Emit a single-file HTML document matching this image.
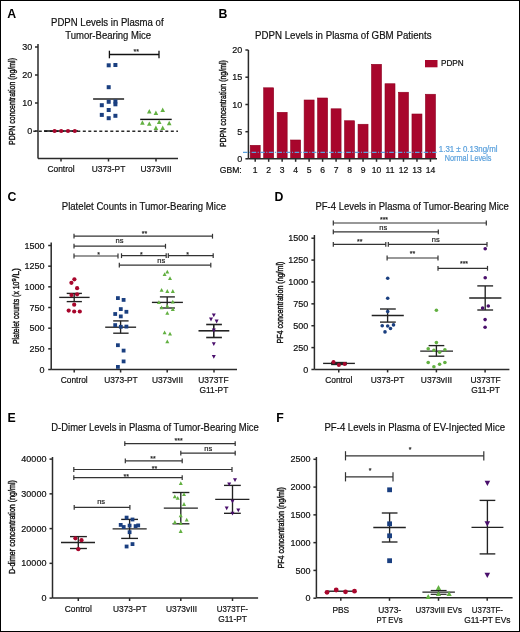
<!DOCTYPE html>
<html><head><meta charset="utf-8"><style>
html,body{margin:0;padding:0;background:#fff;}
#fig{position:relative;width:518px;height:630px;border:1px solid #000;overflow:hidden;}
svg{display:block;font-family:"Liberation Sans", sans-serif;filter:blur(0.3px);}
</style></head><body>
<div id="fig"><svg width="520" height="632" viewBox="0 0 520 632" style="position:absolute;left:-1px;top:-1px">
<text x="7.2" y="17.6" font-size="12.3" text-anchor="start" font-weight="bold" fill="#000">A</text>
<text x="107.3" y="26.3" font-size="10.5" text-anchor="middle" font-weight="normal" fill="#111" textLength="112.5" lengthAdjust="spacingAndGlyphs" stroke="#111" stroke-width="0.2">PDPN Levels in Plasma of</text>
<text x="108.2" y="38.7" font-size="10.5" text-anchor="middle" font-weight="normal" fill="#111" textLength="86" lengthAdjust="spacingAndGlyphs" stroke="#111" stroke-width="0.2">Tumor-Bearing Mice</text>
<text transform="translate(15.3,101.5) rotate(-90)" x="0" y="0" font-size="9.2" text-anchor="middle" fill="#111" stroke="#111" stroke-width="0.4" textLength="87" lengthAdjust="spacingAndGlyphs">PDPN concentration (ng/ml)</text>
<line x1="38" y1="44" x2="38" y2="158.5" stroke="#2a2a2a" stroke-width="1.5"/>
<line x1="35" y1="47" x2="38" y2="47" stroke="#2a2a2a" stroke-width="1.5"/>
<text x="32.2" y="50.1" font-size="9.0" text-anchor="end" font-weight="normal" fill="#111" stroke="#111" stroke-width="0.2">30</text>
<line x1="35" y1="75" x2="38" y2="75" stroke="#2a2a2a" stroke-width="1.5"/>
<text x="32.2" y="78.1" font-size="9.0" text-anchor="end" font-weight="normal" fill="#111" stroke="#111" stroke-width="0.2">20</text>
<line x1="35" y1="103" x2="38" y2="103" stroke="#2a2a2a" stroke-width="1.5"/>
<text x="32.2" y="106.1" font-size="9.0" text-anchor="end" font-weight="normal" fill="#111" stroke="#111" stroke-width="0.2">10</text>
<line x1="35" y1="131" x2="38" y2="131" stroke="#2a2a2a" stroke-width="1.5"/>
<text x="32.2" y="134.1" font-size="9.0" text-anchor="end" font-weight="normal" fill="#111" stroke="#111" stroke-width="0.2">0</text>
<line x1="38" y1="158.5" x2="178" y2="158.5" stroke="#2a2a2a" stroke-width="1.5"/>
<line x1="61" y1="158.5" x2="61" y2="161.5" stroke="#2a2a2a" stroke-width="1.5"/>
<line x1="108.5" y1="158.5" x2="108.5" y2="161.5" stroke="#2a2a2a" stroke-width="1.5"/>
<line x1="156" y1="158.5" x2="156" y2="161.5" stroke="#2a2a2a" stroke-width="1.5"/>
<text x="61" y="172.3" font-size="8.4" text-anchor="middle" font-weight="normal" fill="#111" stroke="#111" stroke-width="0.2">Control</text>
<text x="108.5" y="172.3" font-size="8.4" text-anchor="middle" font-weight="normal" fill="#111" stroke="#111" stroke-width="0.2">U373-PT</text>
<text x="156" y="172.3" font-size="8.4" text-anchor="middle" font-weight="normal" fill="#111" stroke="#111" stroke-width="0.2">U373vIII</text>
<line x1="33.3" y1="131.2" x2="178" y2="131.2" stroke="#2a2a2a" stroke-width="1.4" stroke-dasharray="3 2.5"/>
<line x1="44" y1="131" x2="78" y2="131" stroke="#111" stroke-width="1.3"/>
<line x1="93.1" y1="99" x2="124.1" y2="99" stroke="#111" stroke-width="1.4"/>
<line x1="140.2" y1="119.4" x2="171.7" y2="119.4" stroke="#111" stroke-width="1.4"/>
<line x1="109.4" y1="54.5" x2="159" y2="54.5" stroke="#111" stroke-width="1.3"/>
<line x1="109.4" y1="50.7" x2="109.4" y2="58.3" stroke="#111" stroke-width="1.3"/>
<line x1="159" y1="50.7" x2="159" y2="58.3" stroke="#111" stroke-width="1.3"/>
<text x="136.3" y="54.1" font-size="7" text-anchor="middle" font-weight="normal" fill="#222" stroke="#222" stroke-width="0.2">**</text>
<text x="218.6" y="17.7" font-size="12.3" text-anchor="start" font-weight="bold" fill="#000">B</text>
<text x="255" y="38.5" font-size="10.5" text-anchor="start" font-weight="normal" fill="#111" textLength="176.5" lengthAdjust="spacingAndGlyphs" stroke="#111" stroke-width="0.2">PDPN Levels in Plasma of GBM Patients</text>
<text transform="translate(226.0,103.6) rotate(-90)" x="0" y="0" font-size="9.2" text-anchor="middle" fill="#111" stroke="#111" stroke-width="0.4" textLength="87" lengthAdjust="spacingAndGlyphs">PDPN concentration (ng/ml)</text>
<rect x="250.20" y="145.3" width="10" height="13.20" fill="#a8062c" stroke="#8e0020" stroke-width="0.6"/>
<rect x="263.68" y="87.8" width="10" height="70.70" fill="#a8062c" stroke="#8e0020" stroke-width="0.6"/>
<rect x="277.16" y="112.3" width="10" height="46.20" fill="#a8062c" stroke="#8e0020" stroke-width="0.6"/>
<rect x="290.64" y="140" width="10" height="18.50" fill="#a8062c" stroke="#8e0020" stroke-width="0.6"/>
<rect x="304.12" y="100" width="10" height="58.50" fill="#a8062c" stroke="#8e0020" stroke-width="0.6"/>
<rect x="317.60" y="98" width="10" height="60.50" fill="#a8062c" stroke="#8e0020" stroke-width="0.6"/>
<rect x="331.08" y="108.8" width="10" height="49.70" fill="#a8062c" stroke="#8e0020" stroke-width="0.6"/>
<rect x="344.56" y="120.75" width="10" height="37.75" fill="#a8062c" stroke="#8e0020" stroke-width="0.6"/>
<rect x="358.04" y="124.25" width="10" height="34.25" fill="#a8062c" stroke="#8e0020" stroke-width="0.6"/>
<rect x="371.52" y="64.3" width="10" height="94.20" fill="#a8062c" stroke="#8e0020" stroke-width="0.6"/>
<rect x="385.00" y="83.75" width="10" height="74.75" fill="#a8062c" stroke="#8e0020" stroke-width="0.6"/>
<rect x="398.48" y="92.25" width="10" height="66.25" fill="#a8062c" stroke="#8e0020" stroke-width="0.6"/>
<rect x="411.96" y="114" width="10" height="44.50" fill="#a8062c" stroke="#8e0020" stroke-width="0.6"/>
<rect x="425.44" y="94.25" width="10" height="64.25" fill="#a8062c" stroke="#8e0020" stroke-width="0.6"/>
<line x1="248.4" y1="50" x2="248.4" y2="158.8" stroke="#2a2a2a" stroke-width="1.5"/>
<line x1="245.4" y1="50" x2="248.4" y2="50" stroke="#2a2a2a" stroke-width="1.5"/>
<text x="242.3" y="53.1" font-size="9.0" text-anchor="end" font-weight="normal" fill="#111" stroke="#111" stroke-width="0.2">20</text>
<line x1="245.4" y1="77.2" x2="248.4" y2="77.2" stroke="#2a2a2a" stroke-width="1.5"/>
<text x="242.3" y="80.3" font-size="9.0" text-anchor="end" font-weight="normal" fill="#111" stroke="#111" stroke-width="0.2">15</text>
<line x1="245.4" y1="104.5" x2="248.4" y2="104.5" stroke="#2a2a2a" stroke-width="1.5"/>
<text x="242.3" y="107.6" font-size="9.0" text-anchor="end" font-weight="normal" fill="#111" stroke="#111" stroke-width="0.2">10</text>
<line x1="245.4" y1="131.7" x2="248.4" y2="131.7" stroke="#2a2a2a" stroke-width="1.5"/>
<text x="242.3" y="134.79999999999998" font-size="9.0" text-anchor="end" font-weight="normal" fill="#111" stroke="#111" stroke-width="0.2">5</text>
<line x1="245.4" y1="158.8" x2="248.4" y2="158.8" stroke="#2a2a2a" stroke-width="1.5"/>
<text x="242.3" y="161.9" font-size="9.0" text-anchor="end" font-weight="normal" fill="#111" stroke="#111" stroke-width="0.2">0</text>
<line x1="248.4" y1="158.8" x2="437" y2="158.8" stroke="#2a2a2a" stroke-width="1.5"/>
<line x1="255.2" y1="158.8" x2="255.2" y2="161.8" stroke="#2a2a2a" stroke-width="1.5"/>
<line x1="268.68" y1="158.8" x2="268.68" y2="161.8" stroke="#2a2a2a" stroke-width="1.5"/>
<line x1="282.15999999999997" y1="158.8" x2="282.15999999999997" y2="161.8" stroke="#2a2a2a" stroke-width="1.5"/>
<line x1="295.64" y1="158.8" x2="295.64" y2="161.8" stroke="#2a2a2a" stroke-width="1.5"/>
<line x1="309.12" y1="158.8" x2="309.12" y2="161.8" stroke="#2a2a2a" stroke-width="1.5"/>
<line x1="322.6" y1="158.8" x2="322.6" y2="161.8" stroke="#2a2a2a" stroke-width="1.5"/>
<line x1="336.08" y1="158.8" x2="336.08" y2="161.8" stroke="#2a2a2a" stroke-width="1.5"/>
<line x1="349.56" y1="158.8" x2="349.56" y2="161.8" stroke="#2a2a2a" stroke-width="1.5"/>
<line x1="363.03999999999996" y1="158.8" x2="363.03999999999996" y2="161.8" stroke="#2a2a2a" stroke-width="1.5"/>
<line x1="376.52" y1="158.8" x2="376.52" y2="161.8" stroke="#2a2a2a" stroke-width="1.5"/>
<line x1="390.0" y1="158.8" x2="390.0" y2="161.8" stroke="#2a2a2a" stroke-width="1.5"/>
<line x1="403.48" y1="158.8" x2="403.48" y2="161.8" stroke="#2a2a2a" stroke-width="1.5"/>
<line x1="416.96" y1="158.8" x2="416.96" y2="161.8" stroke="#2a2a2a" stroke-width="1.5"/>
<line x1="430.44" y1="158.8" x2="430.44" y2="161.8" stroke="#2a2a2a" stroke-width="1.5"/>
<text x="255.2" y="172.5" font-size="8.6" text-anchor="middle" font-weight="normal" fill="#111" stroke="#111" stroke-width="0.2">1</text>
<text x="268.68" y="172.5" font-size="8.6" text-anchor="middle" font-weight="normal" fill="#111" stroke="#111" stroke-width="0.2">2</text>
<text x="282.16" y="172.5" font-size="8.6" text-anchor="middle" font-weight="normal" fill="#111" stroke="#111" stroke-width="0.2">3</text>
<text x="295.64" y="172.5" font-size="8.6" text-anchor="middle" font-weight="normal" fill="#111" stroke="#111" stroke-width="0.2">4</text>
<text x="309.12" y="172.5" font-size="8.6" text-anchor="middle" font-weight="normal" fill="#111" stroke="#111" stroke-width="0.2">5</text>
<text x="322.6" y="172.5" font-size="8.6" text-anchor="middle" font-weight="normal" fill="#111" stroke="#111" stroke-width="0.2">6</text>
<text x="336.08" y="172.5" font-size="8.6" text-anchor="middle" font-weight="normal" fill="#111" stroke="#111" stroke-width="0.2">7</text>
<text x="349.56" y="172.5" font-size="8.6" text-anchor="middle" font-weight="normal" fill="#111" stroke="#111" stroke-width="0.2">8</text>
<text x="363.04" y="172.5" font-size="8.6" text-anchor="middle" font-weight="normal" fill="#111" stroke="#111" stroke-width="0.2">9</text>
<text x="376.52" y="172.5" font-size="8.6" text-anchor="middle" font-weight="normal" fill="#111" stroke="#111" stroke-width="0.2">10</text>
<text x="390.0" y="172.5" font-size="8.6" text-anchor="middle" font-weight="normal" fill="#111" stroke="#111" stroke-width="0.2">11</text>
<text x="403.48" y="172.5" font-size="8.6" text-anchor="middle" font-weight="normal" fill="#111" stroke="#111" stroke-width="0.2">12</text>
<text x="416.96" y="172.5" font-size="8.6" text-anchor="middle" font-weight="normal" fill="#111" stroke="#111" stroke-width="0.2">13</text>
<text x="430.44" y="172.5" font-size="8.6" text-anchor="middle" font-weight="normal" fill="#111" stroke="#111" stroke-width="0.2">14</text>
<text x="219.8" y="172.5" font-size="8.6" text-anchor="start" font-weight="normal" fill="#111" stroke="#111" stroke-width="0.2">GBM:</text>
<line x1="243" y1="152.4" x2="436.6" y2="152.4" stroke="#5aa0dc" stroke-width="1.1" stroke-dasharray="4.6 1.5 1 1.5"/>
<rect x="425" y="60" width="12.5" height="7.3" fill="#a8062c"/>
<text x="441" y="66.2" font-size="8.2" text-anchor="start" font-weight="normal" fill="#111" stroke="#111" stroke-width="0.2">PDPN</text>
<text x="438.8" y="152" font-size="8.2" text-anchor="start" font-weight="normal" fill="#5aa0dc" textLength="58.8" lengthAdjust="spacingAndGlyphs" stroke="#5aa0dc" stroke-width="0.2">1.31 &#177; 0.13ng/ml</text>
<text x="444.8" y="161.0" font-size="8.2" text-anchor="start" font-weight="normal" fill="#5aa0dc" textLength="46.6" lengthAdjust="spacingAndGlyphs" stroke="#5aa0dc" stroke-width="0.2">Normal Levels</text>
<text x="7.5" y="200.5" font-size="12.3" text-anchor="start" font-weight="bold" fill="#000">C</text>
<text x="61.75" y="210" font-size="10.5" text-anchor="start" font-weight="normal" fill="#111" textLength="164.3" lengthAdjust="spacingAndGlyphs" stroke="#111" stroke-width="0.2">Platelet Counts in Tumor-Bearing Mice</text>
<g transform="translate(19.0,306) rotate(-90)" fill="#111" stroke="#111" stroke-width="0.4"><text x="-38" y="0" font-size="9.2" textLength="62.4" lengthAdjust="spacingAndGlyphs">Platelet counts (x 10</text><text x="24.6" y="-3.4" font-size="6" textLength="3.2" lengthAdjust="spacingAndGlyphs">9</text><text x="27.9" y="0" font-size="9.2" textLength="10.1" lengthAdjust="spacingAndGlyphs">/L)</text></g>
<line x1="51.2" y1="242.5" x2="51.2" y2="369.5" stroke="#2a2a2a" stroke-width="1.5"/>
<line x1="48.2" y1="245.5" x2="51.2" y2="245.5" stroke="#2a2a2a" stroke-width="1.5"/>
<text x="44.6" y="248.6" font-size="9.0" text-anchor="end" font-weight="normal" fill="#111" stroke="#111" stroke-width="0.2">1500</text>
<line x1="48.2" y1="266.17" x2="51.2" y2="266.17" stroke="#2a2a2a" stroke-width="1.5"/>
<text x="44.6" y="269.27000000000004" font-size="9.0" text-anchor="end" font-weight="normal" fill="#111" stroke="#111" stroke-width="0.2">1250</text>
<line x1="48.2" y1="286.84000000000003" x2="51.2" y2="286.84000000000003" stroke="#2a2a2a" stroke-width="1.5"/>
<text x="44.6" y="289.94000000000005" font-size="9.0" text-anchor="end" font-weight="normal" fill="#111" stroke="#111" stroke-width="0.2">1000</text>
<line x1="48.2" y1="307.51" x2="51.2" y2="307.51" stroke="#2a2a2a" stroke-width="1.5"/>
<text x="44.6" y="310.61" font-size="9.0" text-anchor="end" font-weight="normal" fill="#111" stroke="#111" stroke-width="0.2">750</text>
<line x1="48.2" y1="328.18" x2="51.2" y2="328.18" stroke="#2a2a2a" stroke-width="1.5"/>
<text x="44.6" y="331.28000000000003" font-size="9.0" text-anchor="end" font-weight="normal" fill="#111" stroke="#111" stroke-width="0.2">500</text>
<line x1="48.2" y1="348.85" x2="51.2" y2="348.85" stroke="#2a2a2a" stroke-width="1.5"/>
<text x="44.6" y="351.95000000000005" font-size="9.0" text-anchor="end" font-weight="normal" fill="#111" stroke="#111" stroke-width="0.2">250</text>
<line x1="48.2" y1="369.52" x2="51.2" y2="369.52" stroke="#2a2a2a" stroke-width="1.5"/>
<text x="44.6" y="372.62" font-size="9.0" text-anchor="end" font-weight="normal" fill="#111" stroke="#111" stroke-width="0.2">0</text>
<line x1="51.2" y1="369.5" x2="237" y2="369.5" stroke="#2a2a2a" stroke-width="1.5"/>
<line x1="74.2" y1="369.5" x2="74.2" y2="372.5" stroke="#2a2a2a" stroke-width="1.5"/>
<line x1="120.6" y1="369.5" x2="120.6" y2="372.5" stroke="#2a2a2a" stroke-width="1.5"/>
<line x1="167.2" y1="369.5" x2="167.2" y2="372.5" stroke="#2a2a2a" stroke-width="1.5"/>
<line x1="214" y1="369.5" x2="214" y2="372.5" stroke="#2a2a2a" stroke-width="1.5"/>
<text x="74.2" y="383.2" font-size="8.4" text-anchor="middle" font-weight="normal" fill="#111" stroke="#111" stroke-width="0.2">Control</text>
<text x="120.9" y="383.2" font-size="8.4" text-anchor="middle" font-weight="normal" fill="#111" stroke="#111" stroke-width="0.2">U373-PT</text>
<text x="167.5" y="383.2" font-size="8.4" text-anchor="middle" font-weight="normal" fill="#111" stroke="#111" stroke-width="0.2">U373vIII</text>
<text x="213.4" y="383.2" font-size="8.4" text-anchor="middle" font-weight="normal" fill="#111" stroke="#111" stroke-width="0.2">U373TF</text>
<text x="213.9" y="393.4" font-size="8.4" text-anchor="middle" font-weight="normal" fill="#111" stroke="#111" stroke-width="0.2">G11-PT</text>
<line x1="74" y1="236.2" x2="212.5" y2="236.2" stroke="#333333" stroke-width="1.2"/>
<line x1="74" y1="233.79999999999998" x2="74" y2="238.6" stroke="#333333" stroke-width="1.2"/>
<line x1="212.5" y1="233.79999999999998" x2="212.5" y2="238.6" stroke="#333333" stroke-width="1.2"/>
<text x="144.5" y="235.8" font-size="7" text-anchor="middle" font-weight="normal" fill="#222" stroke="#222" stroke-width="0.2">**</text>
<line x1="74" y1="246.2" x2="165.5" y2="246.2" stroke="#333333" stroke-width="1.2"/>
<line x1="74" y1="243.79999999999998" x2="74" y2="248.6" stroke="#333333" stroke-width="1.2"/>
<line x1="165.5" y1="243.79999999999998" x2="165.5" y2="248.6" stroke="#333333" stroke-width="1.2"/>
<text x="119.5" y="243.2" font-size="7.5" text-anchor="middle" font-weight="normal" fill="#222" stroke="#222" stroke-width="0.2">ns</text>
<line x1="74" y1="256" x2="118" y2="256" stroke="#333333" stroke-width="1.2"/>
<line x1="74" y1="253.6" x2="74" y2="258.4" stroke="#333333" stroke-width="1.2"/>
<line x1="118" y1="253.6" x2="118" y2="258.4" stroke="#333333" stroke-width="1.2"/>
<text x="98.5" y="256.9" font-size="7" text-anchor="middle" font-weight="normal" fill="#222" stroke="#222" stroke-width="0.2">*</text>
<line x1="121.5" y1="255.7" x2="166.2" y2="255.7" stroke="#333333" stroke-width="1.2"/>
<line x1="121.5" y1="253.29999999999998" x2="121.5" y2="258.09999999999997" stroke="#333333" stroke-width="1.2"/>
<line x1="166.2" y1="253.29999999999998" x2="166.2" y2="258.09999999999997" stroke="#333333" stroke-width="1.2"/>
<text x="141.4" y="256.9" font-size="7" text-anchor="middle" font-weight="normal" fill="#222" stroke="#222" stroke-width="0.2">*</text>
<line x1="168.3" y1="255.7" x2="213.2" y2="255.7" stroke="#333333" stroke-width="1.2"/>
<line x1="168.3" y1="253.29999999999998" x2="168.3" y2="258.09999999999997" stroke="#333333" stroke-width="1.2"/>
<line x1="213.2" y1="253.29999999999998" x2="213.2" y2="258.09999999999997" stroke="#333333" stroke-width="1.2"/>
<text x="187.5" y="256.9" font-size="7" text-anchor="middle" font-weight="normal" fill="#222" stroke="#222" stroke-width="0.2">*</text>
<line x1="119.3" y1="265.2" x2="210.8" y2="265.2" stroke="#333333" stroke-width="1.2"/>
<line x1="119.3" y1="262.8" x2="119.3" y2="267.59999999999997" stroke="#333333" stroke-width="1.2"/>
<line x1="210.8" y1="262.8" x2="210.8" y2="267.59999999999997" stroke="#333333" stroke-width="1.2"/>
<text x="161.3" y="263" font-size="7.5" text-anchor="middle" font-weight="normal" fill="#222" stroke="#222" stroke-width="0.2">ns</text>
<line x1="59.2" y1="297.4" x2="89.6" y2="297.4" stroke="#222" stroke-width="1.35"/>
<line x1="66.7" y1="293.4" x2="81.9" y2="293.4" stroke="#222" stroke-width="1.35"/>
<line x1="66.7" y1="301.6" x2="81.9" y2="301.6" stroke="#222" stroke-width="1.35"/>
<line x1="74.2" y1="293.4" x2="74.2" y2="301.6" stroke="#222" stroke-width="1.35"/>
<line x1="105.2" y1="327.2" x2="136.1" y2="327.2" stroke="#222" stroke-width="1.35"/>
<line x1="113.2" y1="320.9" x2="128.6" y2="320.9" stroke="#222" stroke-width="1.35"/>
<line x1="113.2" y1="333.2" x2="128.6" y2="333.2" stroke="#222" stroke-width="1.35"/>
<line x1="120.6" y1="320.9" x2="120.6" y2="333.2" stroke="#222" stroke-width="1.35"/>
<line x1="151.9" y1="302.4" x2="182.9" y2="302.4" stroke="#222" stroke-width="1.35"/>
<line x1="159.9" y1="296.9" x2="174.9" y2="296.9" stroke="#222" stroke-width="1.35"/>
<line x1="159.9" y1="308" x2="174.9" y2="308" stroke="#222" stroke-width="1.35"/>
<line x1="167.2" y1="296.9" x2="167.2" y2="308" stroke="#222" stroke-width="1.35"/>
<line x1="198.5" y1="330.8" x2="229.3" y2="330.8" stroke="#222" stroke-width="1.6"/>
<line x1="206.2" y1="324.5" x2="221.9" y2="324.5" stroke="#222" stroke-width="1.6"/>
<line x1="206.2" y1="337.5" x2="221.9" y2="337.5" stroke="#222" stroke-width="1.6"/>
<line x1="213.8" y1="324.5" x2="213.8" y2="337.5" stroke="#222" stroke-width="1.6"/>
<text x="274.5" y="200.5" font-size="12.3" text-anchor="start" font-weight="bold" fill="#000">D</text>
<text x="315.5" y="210" font-size="10.5" text-anchor="start" font-weight="normal" fill="#111" textLength="193.3" lengthAdjust="spacingAndGlyphs" stroke="#111" stroke-width="0.2">PF-4 Levels in Plasma of Tumor-Bearing Mice</text>
<text transform="translate(283.1,302.5) rotate(-90)" x="0" y="0" font-size="9.2" text-anchor="middle" fill="#111" stroke="#111" stroke-width="0.4" textLength="82" lengthAdjust="spacingAndGlyphs">PF4 concentration (ng/ml)</text>
<line x1="314.4" y1="235" x2="314.4" y2="369.4" stroke="#2a2a2a" stroke-width="1.5"/>
<line x1="311.4" y1="238.2" x2="314.4" y2="238.2" stroke="#2a2a2a" stroke-width="1.5"/>
<text x="308.2" y="241.29999999999998" font-size="9.0" text-anchor="end" font-weight="normal" fill="#111" stroke="#111" stroke-width="0.2">1500</text>
<line x1="311.4" y1="260.08" x2="314.4" y2="260.08" stroke="#2a2a2a" stroke-width="1.5"/>
<text x="308.2" y="263.18" font-size="9.0" text-anchor="end" font-weight="normal" fill="#111" stroke="#111" stroke-width="0.2">1250</text>
<line x1="311.4" y1="281.96" x2="314.4" y2="281.96" stroke="#2a2a2a" stroke-width="1.5"/>
<text x="308.2" y="285.06" font-size="9.0" text-anchor="end" font-weight="normal" fill="#111" stroke="#111" stroke-width="0.2">1000</text>
<line x1="311.4" y1="303.84" x2="314.4" y2="303.84" stroke="#2a2a2a" stroke-width="1.5"/>
<text x="308.2" y="306.94" font-size="9.0" text-anchor="end" font-weight="normal" fill="#111" stroke="#111" stroke-width="0.2">750</text>
<line x1="311.4" y1="325.71999999999997" x2="314.4" y2="325.71999999999997" stroke="#2a2a2a" stroke-width="1.5"/>
<text x="308.2" y="328.82" font-size="9.0" text-anchor="end" font-weight="normal" fill="#111" stroke="#111" stroke-width="0.2">500</text>
<line x1="311.4" y1="347.59999999999997" x2="314.4" y2="347.59999999999997" stroke="#2a2a2a" stroke-width="1.5"/>
<text x="308.2" y="350.7" font-size="9.0" text-anchor="end" font-weight="normal" fill="#111" stroke="#111" stroke-width="0.2">250</text>
<line x1="311.4" y1="369.48" x2="314.4" y2="369.48" stroke="#2a2a2a" stroke-width="1.5"/>
<text x="308.2" y="372.58000000000004" font-size="9.0" text-anchor="end" font-weight="normal" fill="#111" stroke="#111" stroke-width="0.2">0</text>
<line x1="314.4" y1="369.4" x2="509.4" y2="369.4" stroke="#2a2a2a" stroke-width="1.5"/>
<line x1="338.75" y1="369.4" x2="338.75" y2="372.4" stroke="#2a2a2a" stroke-width="1.5"/>
<line x1="387.6" y1="369.4" x2="387.6" y2="372.4" stroke="#2a2a2a" stroke-width="1.5"/>
<line x1="436.4" y1="369.4" x2="436.4" y2="372.4" stroke="#2a2a2a" stroke-width="1.5"/>
<line x1="485.1" y1="369.4" x2="485.1" y2="372.4" stroke="#2a2a2a" stroke-width="1.5"/>
<text x="338.75" y="383.3" font-size="8.4" text-anchor="middle" font-weight="normal" fill="#111" stroke="#111" stroke-width="0.2">Control</text>
<text x="387.5" y="383.3" font-size="8.4" text-anchor="middle" font-weight="normal" fill="#111" stroke="#111" stroke-width="0.2">U373-PT</text>
<text x="436.45" y="383.3" font-size="8.4" text-anchor="middle" font-weight="normal" fill="#111" stroke="#111" stroke-width="0.2">U373vIII</text>
<text x="485.6" y="383.3" font-size="8.4" text-anchor="middle" font-weight="normal" fill="#111" stroke="#111" stroke-width="0.2">U373TF</text>
<text x="485.6" y="393.3" font-size="8.4" text-anchor="middle" font-weight="normal" fill="#111" stroke="#111" stroke-width="0.2">G11-PT</text>
<line x1="333.3" y1="223" x2="486.3" y2="223" stroke="#333333" stroke-width="1.2"/>
<line x1="333.3" y1="220.6" x2="333.3" y2="225.4" stroke="#333333" stroke-width="1.2"/>
<line x1="486.3" y1="220.6" x2="486.3" y2="225.4" stroke="#333333" stroke-width="1.2"/>
<text x="384" y="222.0" font-size="7" text-anchor="middle" font-weight="normal" fill="#222" stroke="#222" stroke-width="0.2">***</text>
<line x1="333.3" y1="231.8" x2="438.3" y2="231.8" stroke="#333333" stroke-width="1.2"/>
<line x1="333.3" y1="229.4" x2="333.3" y2="234.20000000000002" stroke="#333333" stroke-width="1.2"/>
<line x1="438.3" y1="229.4" x2="438.3" y2="234.20000000000002" stroke="#333333" stroke-width="1.2"/>
<text x="383.3" y="230.2" font-size="7.5" text-anchor="middle" font-weight="normal" fill="#222" stroke="#222" stroke-width="0.2">ns</text>
<line x1="333.3" y1="244.3" x2="385.8" y2="244.3" stroke="#333333" stroke-width="1.2"/>
<line x1="333.3" y1="241.9" x2="333.3" y2="246.70000000000002" stroke="#333333" stroke-width="1.2"/>
<line x1="385.8" y1="241.9" x2="385.8" y2="246.70000000000002" stroke="#333333" stroke-width="1.2"/>
<text x="359.7" y="244.1" font-size="7" text-anchor="middle" font-weight="normal" fill="#222" stroke="#222" stroke-width="0.2">**</text>
<line x1="388.3" y1="244.3" x2="487" y2="244.3" stroke="#333333" stroke-width="1.2"/>
<line x1="388.3" y1="241.9" x2="388.3" y2="246.70000000000002" stroke="#333333" stroke-width="1.2"/>
<line x1="487" y1="241.9" x2="487" y2="246.70000000000002" stroke="#333333" stroke-width="1.2"/>
<text x="435.8" y="241.6" font-size="7.5" text-anchor="middle" font-weight="normal" fill="#222" stroke="#222" stroke-width="0.2">ns</text>
<line x1="387.1" y1="258" x2="438" y2="258" stroke="#333333" stroke-width="1.2"/>
<line x1="387.1" y1="255.6" x2="387.1" y2="260.4" stroke="#333333" stroke-width="1.2"/>
<line x1="438" y1="255.6" x2="438" y2="260.4" stroke="#333333" stroke-width="1.2"/>
<text x="412.5" y="256.2" font-size="7" text-anchor="middle" font-weight="normal" fill="#222" stroke="#222" stroke-width="0.2">**</text>
<line x1="438" y1="268.3" x2="487.5" y2="268.3" stroke="#333333" stroke-width="1.2"/>
<line x1="438" y1="265.90000000000003" x2="438" y2="270.7" stroke="#333333" stroke-width="1.2"/>
<line x1="487.5" y1="265.90000000000003" x2="487.5" y2="270.7" stroke="#333333" stroke-width="1.2"/>
<text x="464" y="266.2" font-size="7" text-anchor="middle" font-weight="normal" fill="#222" stroke="#222" stroke-width="0.2">***</text>
<line x1="323.1" y1="363.4" x2="354.9" y2="363.4" stroke="#222" stroke-width="1.35"/>
<line x1="331.1" y1="362.5" x2="346.8" y2="362.5" stroke="#222" stroke-width="1.35"/>
<line x1="331.1" y1="364.5" x2="346.8" y2="364.5" stroke="#222" stroke-width="1.35"/>
<line x1="338.8" y1="362.5" x2="338.8" y2="364.5" stroke="#222" stroke-width="1.35"/>
<line x1="371.7" y1="315.5" x2="403.8" y2="315.5" stroke="#222" stroke-width="1.35"/>
<line x1="380" y1="309" x2="395.8" y2="309" stroke="#222" stroke-width="1.35"/>
<line x1="380" y1="322.1" x2="395.8" y2="322.1" stroke="#222" stroke-width="1.35"/>
<line x1="387.6" y1="309" x2="387.6" y2="322.1" stroke="#222" stroke-width="1.35"/>
<line x1="420.2" y1="351.1" x2="453" y2="351.1" stroke="#222" stroke-width="1.35"/>
<line x1="428.6" y1="345.6" x2="444.3" y2="345.6" stroke="#222" stroke-width="1.35"/>
<line x1="428.6" y1="356.2" x2="444.3" y2="356.2" stroke="#222" stroke-width="1.35"/>
<line x1="436.4" y1="345.6" x2="436.4" y2="356.2" stroke="#222" stroke-width="1.35"/>
<line x1="469.2" y1="298" x2="501.4" y2="298" stroke="#222" stroke-width="1.35"/>
<line x1="477.3" y1="285.9" x2="493.1" y2="285.9" stroke="#222" stroke-width="1.35"/>
<line x1="477.3" y1="310" x2="493.1" y2="310" stroke="#222" stroke-width="1.35"/>
<line x1="485.2" y1="285.9" x2="485.2" y2="310" stroke="#222" stroke-width="1.35"/>
<text x="7.5" y="421.8" font-size="12.3" text-anchor="start" font-weight="bold" fill="#000">E</text>
<text x="51.25" y="430.5" font-size="10.5" text-anchor="start" font-weight="normal" fill="#111" textLength="207.5" lengthAdjust="spacingAndGlyphs" stroke="#111" stroke-width="0.2">D-Dimer Levels in Plasma of Tumor-Bearing Mice</text>
<text transform="translate(15.4,527.1) rotate(-90)" x="0" y="0" font-size="9.2" text-anchor="middle" fill="#111" stroke="#111" stroke-width="0.4" textLength="94" lengthAdjust="spacingAndGlyphs">D-dimer concentration (ng/ml)</text>
<line x1="52.5" y1="457" x2="52.5" y2="598" stroke="#2a2a2a" stroke-width="1.5"/>
<line x1="49.5" y1="459.1" x2="52.5" y2="459.1" stroke="#2a2a2a" stroke-width="1.5"/>
<text x="46.4" y="462.20000000000005" font-size="9.0" text-anchor="end" font-weight="normal" fill="#111" stroke="#111" stroke-width="0.2">40000</text>
<line x1="49.5" y1="493.85" x2="52.5" y2="493.85" stroke="#2a2a2a" stroke-width="1.5"/>
<text x="46.4" y="496.95000000000005" font-size="9.0" text-anchor="end" font-weight="normal" fill="#111" stroke="#111" stroke-width="0.2">30000</text>
<line x1="49.5" y1="528.6" x2="52.5" y2="528.6" stroke="#2a2a2a" stroke-width="1.5"/>
<text x="46.4" y="531.7" font-size="9.0" text-anchor="end" font-weight="normal" fill="#111" stroke="#111" stroke-width="0.2">20000</text>
<line x1="49.5" y1="563.35" x2="52.5" y2="563.35" stroke="#2a2a2a" stroke-width="1.5"/>
<text x="46.4" y="566.45" font-size="9.0" text-anchor="end" font-weight="normal" fill="#111" stroke="#111" stroke-width="0.2">10000</text>
<line x1="49.5" y1="598.1" x2="52.5" y2="598.1" stroke="#2a2a2a" stroke-width="1.5"/>
<text x="46.4" y="601.2" font-size="9.0" text-anchor="end" font-weight="normal" fill="#111" stroke="#111" stroke-width="0.2">0</text>
<line x1="52.5" y1="598" x2="258.1" y2="598" stroke="#2a2a2a" stroke-width="1.5"/>
<line x1="78.3" y1="598" x2="78.3" y2="601" stroke="#2a2a2a" stroke-width="1.5"/>
<line x1="129.6" y1="598" x2="129.6" y2="601" stroke="#2a2a2a" stroke-width="1.5"/>
<line x1="180.8" y1="598" x2="180.8" y2="601" stroke="#2a2a2a" stroke-width="1.5"/>
<line x1="232.5" y1="598" x2="232.5" y2="601" stroke="#2a2a2a" stroke-width="1.5"/>
<text x="78.3" y="611.8" font-size="8.4" text-anchor="middle" font-weight="normal" fill="#111" stroke="#111" stroke-width="0.2">Control</text>
<text x="129.75" y="611.8" font-size="8.4" text-anchor="middle" font-weight="normal" fill="#111" stroke="#111" stroke-width="0.2">U373-PT</text>
<text x="181.6" y="611.8" font-size="8.4" text-anchor="middle" font-weight="normal" fill="#111" stroke="#111" stroke-width="0.2">U373vIII</text>
<text x="232.3" y="611.8" font-size="8.4" text-anchor="middle" font-weight="normal" fill="#111" textLength="31" lengthAdjust="spacingAndGlyphs" stroke="#111" stroke-width="0.2">U373TF-</text>
<text x="232.6" y="621.7" font-size="8.4" text-anchor="middle" font-weight="normal" fill="#111" stroke="#111" stroke-width="0.2">G11-PT</text>
<line x1="124.8" y1="443.6" x2="235.2" y2="443.6" stroke="#333333" stroke-width="1.2"/>
<line x1="124.8" y1="441.20000000000005" x2="124.8" y2="446.0" stroke="#333333" stroke-width="1.2"/>
<line x1="235.2" y1="441.20000000000005" x2="235.2" y2="446.0" stroke="#333333" stroke-width="1.2"/>
<text x="178.7" y="443.0" font-size="7" text-anchor="middle" font-weight="normal" fill="#222" stroke="#222" stroke-width="0.2">***</text>
<line x1="180.8" y1="453.1" x2="235.2" y2="453.1" stroke="#333333" stroke-width="1.2"/>
<line x1="180.8" y1="450.70000000000005" x2="180.8" y2="455.5" stroke="#333333" stroke-width="1.2"/>
<line x1="235.2" y1="450.70000000000005" x2="235.2" y2="455.5" stroke="#333333" stroke-width="1.2"/>
<text x="208.3" y="450.5" font-size="7.5" text-anchor="middle" font-weight="normal" fill="#222" stroke="#222" stroke-width="0.2">ns</text>
<line x1="125.3" y1="460.9" x2="182.2" y2="460.9" stroke="#333333" stroke-width="1.2"/>
<line x1="125.3" y1="458.5" x2="125.3" y2="463.29999999999995" stroke="#333333" stroke-width="1.2"/>
<line x1="182.2" y1="458.5" x2="182.2" y2="463.29999999999995" stroke="#333333" stroke-width="1.2"/>
<text x="153.1" y="461.1" font-size="7" text-anchor="middle" font-weight="normal" fill="#222" stroke="#222" stroke-width="0.2">**</text>
<line x1="73.8" y1="469.5" x2="232" y2="469.5" stroke="#333333" stroke-width="1.2"/>
<line x1="73.8" y1="467.1" x2="73.8" y2="471.9" stroke="#333333" stroke-width="1.2"/>
<line x1="232" y1="467.1" x2="232" y2="471.9" stroke="#333333" stroke-width="1.2"/>
<text x="154.4" y="470.5" font-size="7" text-anchor="middle" font-weight="normal" fill="#222" stroke="#222" stroke-width="0.2">**</text>
<line x1="73.8" y1="477.7" x2="182.2" y2="477.7" stroke="#333333" stroke-width="1.2"/>
<line x1="73.8" y1="475.3" x2="73.8" y2="480.09999999999997" stroke="#333333" stroke-width="1.2"/>
<line x1="182.2" y1="475.3" x2="182.2" y2="480.09999999999997" stroke="#333333" stroke-width="1.2"/>
<text x="126.2" y="478.9" font-size="7" text-anchor="middle" font-weight="normal" fill="#222" stroke="#222" stroke-width="0.2">**</text>
<line x1="74.2" y1="507.4" x2="129.9" y2="507.4" stroke="#333333" stroke-width="1.2"/>
<line x1="74.2" y1="505.0" x2="74.2" y2="509.79999999999995" stroke="#333333" stroke-width="1.2"/>
<line x1="129.9" y1="505.0" x2="129.9" y2="509.79999999999995" stroke="#333333" stroke-width="1.2"/>
<text x="101.1" y="503.6" font-size="7.5" text-anchor="middle" font-weight="normal" fill="#222" stroke="#222" stroke-width="0.2">ns</text>
<line x1="61" y1="542.5" x2="95" y2="542.5" stroke="#222" stroke-width="1.35"/>
<line x1="70" y1="536.6" x2="86.9" y2="536.6" stroke="#222" stroke-width="1.35"/>
<line x1="70" y1="548.5" x2="86.9" y2="548.5" stroke="#222" stroke-width="1.35"/>
<line x1="78.3" y1="536.6" x2="78.3" y2="548.5" stroke="#222" stroke-width="1.35"/>
<line x1="112.6" y1="528.9" x2="146.7" y2="528.9" stroke="#222" stroke-width="1.35"/>
<line x1="121.2" y1="519.4" x2="138" y2="519.4" stroke="#222" stroke-width="1.35"/>
<line x1="121.2" y1="538.4" x2="138" y2="538.4" stroke="#222" stroke-width="1.35"/>
<line x1="129.6" y1="519.4" x2="129.6" y2="538.4" stroke="#222" stroke-width="1.35"/>
<line x1="163.8" y1="508.1" x2="197.9" y2="508.1" stroke="#222" stroke-width="1.35"/>
<line x1="172.5" y1="492.5" x2="189.4" y2="492.5" stroke="#222" stroke-width="1.35"/>
<line x1="172.5" y1="523.8" x2="189.4" y2="523.8" stroke="#222" stroke-width="1.35"/>
<line x1="180.8" y1="492.5" x2="180.8" y2="523.8" stroke="#222" stroke-width="1.35"/>
<line x1="215.2" y1="499.4" x2="249.4" y2="499.4" stroke="#222" stroke-width="1.35"/>
<line x1="224" y1="485.4" x2="240.8" y2="485.4" stroke="#222" stroke-width="1.35"/>
<line x1="224" y1="513.3" x2="240.8" y2="513.3" stroke="#222" stroke-width="1.35"/>
<line x1="232.5" y1="485.4" x2="232.5" y2="513.3" stroke="#222" stroke-width="1.35"/>
<text x="276.3" y="421.8" font-size="12.3" text-anchor="start" font-weight="bold" fill="#000">F</text>
<text x="324.5" y="430.5" font-size="10.5" text-anchor="start" font-weight="normal" fill="#111" textLength="180.5" lengthAdjust="spacingAndGlyphs" stroke="#111" stroke-width="0.2">PF-4 Levels in Plasma of EV-Injected Mice</text>
<text transform="translate(284.1,527.8) rotate(-90)" x="0" y="0" font-size="9.2" text-anchor="middle" fill="#111" stroke="#111" stroke-width="0.4" textLength="81.5" lengthAdjust="spacingAndGlyphs">PF4 concentration (ng/ml)</text>
<line x1="316.4" y1="457" x2="316.4" y2="597.8" stroke="#2a2a2a" stroke-width="1.5"/>
<line x1="313.4" y1="459.3" x2="316.4" y2="459.3" stroke="#2a2a2a" stroke-width="1.5"/>
<text x="310.5" y="462.40000000000003" font-size="9.0" text-anchor="end" font-weight="normal" fill="#111" stroke="#111" stroke-width="0.2">2500</text>
<line x1="313.4" y1="487.08000000000004" x2="316.4" y2="487.08000000000004" stroke="#2a2a2a" stroke-width="1.5"/>
<text x="310.5" y="490.18000000000006" font-size="9.0" text-anchor="end" font-weight="normal" fill="#111" stroke="#111" stroke-width="0.2">2000</text>
<line x1="313.4" y1="514.86" x2="316.4" y2="514.86" stroke="#2a2a2a" stroke-width="1.5"/>
<text x="310.5" y="517.96" font-size="9.0" text-anchor="end" font-weight="normal" fill="#111" stroke="#111" stroke-width="0.2">1500</text>
<line x1="313.4" y1="542.64" x2="316.4" y2="542.64" stroke="#2a2a2a" stroke-width="1.5"/>
<text x="310.5" y="545.74" font-size="9.0" text-anchor="end" font-weight="normal" fill="#111" stroke="#111" stroke-width="0.2">1000</text>
<line x1="313.4" y1="570.4200000000001" x2="316.4" y2="570.4200000000001" stroke="#2a2a2a" stroke-width="1.5"/>
<text x="310.5" y="573.5200000000001" font-size="9.0" text-anchor="end" font-weight="normal" fill="#111" stroke="#111" stroke-width="0.2">500</text>
<line x1="313.4" y1="598.2" x2="316.4" y2="598.2" stroke="#2a2a2a" stroke-width="1.5"/>
<text x="310.5" y="601.3000000000001" font-size="9.0" text-anchor="end" font-weight="normal" fill="#111" stroke="#111" stroke-width="0.2">0</text>
<line x1="316.4" y1="597.8" x2="512.6" y2="597.8" stroke="#2a2a2a" stroke-width="1.5"/>
<line x1="340.8" y1="597.8" x2="340.8" y2="600.8" stroke="#2a2a2a" stroke-width="1.5"/>
<line x1="389.5" y1="597.8" x2="389.5" y2="600.8" stroke="#2a2a2a" stroke-width="1.5"/>
<line x1="438.5" y1="597.8" x2="438.5" y2="600.8" stroke="#2a2a2a" stroke-width="1.5"/>
<line x1="487.2" y1="597.8" x2="487.2" y2="600.8" stroke="#2a2a2a" stroke-width="1.5"/>
<text x="340.8" y="612.6" font-size="8.4" text-anchor="middle" font-weight="normal" fill="#111" stroke="#111" stroke-width="0.2">PBS</text>
<text x="389.7" y="612.6" font-size="8.4" text-anchor="middle" font-weight="normal" fill="#111" stroke="#111" stroke-width="0.2">U373-</text>
<text x="389.5" y="622.5" font-size="8.4" text-anchor="middle" font-weight="normal" fill="#111" textLength="26" lengthAdjust="spacingAndGlyphs" stroke="#111" stroke-width="0.2">PT EVs</text>
<text x="438.65" y="612.6" font-size="8.4" text-anchor="middle" font-weight="normal" fill="#111" textLength="46.5" lengthAdjust="spacingAndGlyphs" stroke="#111" stroke-width="0.2">U373vIII EVs</text>
<text x="487.35" y="612.6" font-size="8.4" text-anchor="middle" font-weight="normal" fill="#111" textLength="31" lengthAdjust="spacingAndGlyphs" stroke="#111" stroke-width="0.2">U373TF-</text>
<text x="487.35" y="622.5" font-size="8.4" text-anchor="middle" font-weight="normal" fill="#111" stroke="#111" stroke-width="0.2">G11-PT EVs</text>
<line x1="345.5" y1="455.8" x2="483.8" y2="455.8" stroke="#333333" stroke-width="1.2"/>
<line x1="345.5" y1="451.2" x2="345.5" y2="460.40000000000003" stroke="#333333" stroke-width="1.2"/>
<line x1="483.8" y1="451.2" x2="483.8" y2="460.40000000000003" stroke="#333333" stroke-width="1.2"/>
<text x="410" y="452.4" font-size="7" text-anchor="middle" font-weight="normal" fill="#222" stroke="#222" stroke-width="0.2">*</text>
<line x1="345.5" y1="476.8" x2="393" y2="476.8" stroke="#333333" stroke-width="1.2"/>
<line x1="345.5" y1="472.2" x2="345.5" y2="481.40000000000003" stroke="#333333" stroke-width="1.2"/>
<line x1="393" y1="472.2" x2="393" y2="481.40000000000003" stroke="#333333" stroke-width="1.2"/>
<text x="370" y="473.2" font-size="7" text-anchor="middle" font-weight="normal" fill="#222" stroke="#222" stroke-width="0.2">*</text>
<line x1="327" y1="591.2" x2="354.5" y2="591.2" stroke="#111" stroke-width="1.3"/>
<line x1="373.3" y1="527.5" x2="405.8" y2="527.5" stroke="#222" stroke-width="1.35"/>
<line x1="381.8" y1="513" x2="397.5" y2="513" stroke="#222" stroke-width="1.35"/>
<line x1="381.8" y1="542" x2="397.5" y2="542" stroke="#222" stroke-width="1.35"/>
<line x1="389.6" y1="513" x2="389.6" y2="542" stroke="#222" stroke-width="1.35"/>
<line x1="422.4" y1="592.2" x2="454.9" y2="592.2" stroke="#222" stroke-width="1.2"/>
<line x1="430.7" y1="590.5" x2="446.6" y2="590.5" stroke="#222" stroke-width="1.2"/>
<line x1="430.7" y1="594.3" x2="446.6" y2="594.3" stroke="#222" stroke-width="1.2"/>
<line x1="438.5" y1="590.5" x2="438.5" y2="594.3" stroke="#222" stroke-width="1.2"/>
<line x1="471.5" y1="527.4" x2="503.4" y2="527.4" stroke="#222" stroke-width="1.35"/>
<line x1="479.6" y1="500.4" x2="495.3" y2="500.4" stroke="#222" stroke-width="1.35"/>
<line x1="479.6" y1="553.9" x2="495.3" y2="553.9" stroke="#222" stroke-width="1.35"/>
<line x1="487.4" y1="500.4" x2="487.4" y2="553.9" stroke="#222" stroke-width="1.35"/>
<circle cx="54.6" cy="131" r="2.1" fill="#a8062c"/>
<circle cx="61.2" cy="131" r="2.1" fill="#a8062c"/>
<circle cx="68" cy="131" r="2.1" fill="#a8062c"/>
<circle cx="74.8" cy="131" r="2.1" fill="#a8062c"/>
<rect x="106.70" y="63.30" width="4.0" height="4.0" fill="#1a3f80"/>
<rect x="113.40" y="63.00" width="4.0" height="4.0" fill="#1a3f80"/>
<rect x="106.70" y="85.20" width="4.0" height="4.0" fill="#1a3f80"/>
<rect x="106.70" y="99.80" width="4.0" height="4.0" fill="#1a3f80"/>
<rect x="113.40" y="99.50" width="4.0" height="4.0" fill="#1a3f80"/>
<rect x="113.40" y="102.30" width="4.0" height="4.0" fill="#1a3f80"/>
<rect x="99.80" y="103.20" width="4.0" height="4.0" fill="#1a3f80"/>
<rect x="106.70" y="108.00" width="4.0" height="4.0" fill="#1a3f80"/>
<rect x="99.80" y="112.90" width="4.0" height="4.0" fill="#1a3f80"/>
<rect x="106.70" y="116.20" width="4.0" height="4.0" fill="#1a3f80"/>
<rect x="113.40" y="113.80" width="4.0" height="4.0" fill="#1a3f80"/>
<polygon points="149.30,109.11 151.60,113.48 147.00,113.48" fill="#62b041"/>
<polygon points="155.90,110.52 158.20,114.89 153.60,114.89" fill="#62b041"/>
<polygon points="162.70,107.52 165.00,111.89 160.40,111.89" fill="#62b041"/>
<polygon points="142.40,120.31 144.70,124.69 140.10,124.69" fill="#62b041"/>
<polygon points="149.30,121.41 151.60,125.78 147.00,125.78" fill="#62b041"/>
<polygon points="159.20,119.52 161.50,123.89 156.90,123.89" fill="#62b041"/>
<polygon points="169.20,120.81 171.50,125.19 166.90,125.19" fill="#62b041"/>
<polygon points="155.90,125.52 158.20,129.88 153.60,129.88" fill="#62b041"/>
<polygon points="162.70,125.52 165.00,129.88 160.40,129.88" fill="#62b041"/>
<circle cx="74.4" cy="279.3" r="2.1" fill="#a8062c"/>
<circle cx="71.4" cy="282.8" r="2.1" fill="#a8062c"/>
<circle cx="77.1" cy="288.2" r="2.1" fill="#a8062c"/>
<circle cx="71.5" cy="295.1" r="2.1" fill="#a8062c"/>
<circle cx="77.1" cy="294.3" r="2.1" fill="#a8062c"/>
<circle cx="74.2" cy="304.7" r="2.1" fill="#a8062c"/>
<circle cx="68.7" cy="310.6" r="2.1" fill="#a8062c"/>
<circle cx="74.2" cy="311.5" r="2.1" fill="#a8062c"/>
<circle cx="79.8" cy="311.5" r="2.1" fill="#a8062c"/>
<rect x="116.00" y="296.20" width="3.8" height="3.8" fill="#1a3f80"/>
<rect x="121.70" y="298.00" width="3.8" height="3.8" fill="#1a3f80"/>
<rect x="118.90" y="307.20" width="3.8" height="3.8" fill="#1a3f80"/>
<rect x="124.50" y="309.90" width="3.8" height="3.8" fill="#1a3f80"/>
<rect x="113.30" y="312.10" width="3.8" height="3.8" fill="#1a3f80"/>
<rect x="118.90" y="314.50" width="3.8" height="3.8" fill="#1a3f80"/>
<rect x="113.30" y="323.20" width="3.8" height="3.8" fill="#1a3f80"/>
<rect x="118.90" y="324.90" width="3.8" height="3.8" fill="#1a3f80"/>
<rect x="124.50" y="324.70" width="3.8" height="3.8" fill="#1a3f80"/>
<rect x="116.00" y="343.30" width="3.8" height="3.8" fill="#1a3f80"/>
<rect x="121.70" y="348.70" width="3.8" height="3.8" fill="#1a3f80"/>
<rect x="121.70" y="359.50" width="3.8" height="3.8" fill="#1a3f80"/>
<rect x="116.00" y="365.00" width="3.8" height="3.8" fill="#1a3f80"/>
<polygon points="167.30,269.70 169.30,273.50 165.30,273.50" fill="#62b041"/>
<polygon points="164.60,272.20 166.60,276.00 162.60,276.00" fill="#62b041"/>
<polygon points="170.00,276.30 172.00,280.10 168.00,280.10" fill="#62b041"/>
<polygon points="161.60,287.90 163.60,291.70 159.60,291.70" fill="#62b041"/>
<polygon points="167.30,289.10 169.30,292.90 165.30,292.90" fill="#62b041"/>
<polygon points="172.80,289.10 174.80,292.90 170.80,292.90" fill="#62b041"/>
<polygon points="158.90,300.20 160.90,304.00 156.90,304.00" fill="#62b041"/>
<polygon points="172.80,299.80 174.80,303.60 170.80,303.60" fill="#62b041"/>
<polygon points="167.30,304.00 169.30,307.80 165.30,307.80" fill="#62b041"/>
<polygon points="161.60,305.50 163.60,309.30 159.60,309.30" fill="#62b041"/>
<polygon points="172.80,307.10 174.80,310.90 170.80,310.90" fill="#62b041"/>
<polygon points="167.30,310.90 169.30,314.70 165.30,314.70" fill="#62b041"/>
<polygon points="164.60,330.40 166.60,334.20 162.60,334.20" fill="#62b041"/>
<polygon points="170.00,331.80 172.00,335.60 168.00,335.60" fill="#62b041"/>
<polygon points="167.30,339.40 169.30,343.20 165.30,343.20" fill="#62b041"/>
<polygon points="213.80,317.20 215.80,313.40 211.80,313.40" fill="#4a0f6c"/>
<polygon points="211.00,321.40 213.00,317.60 209.00,317.60" fill="#4a0f6c"/>
<polygon points="216.60,323.40 218.60,319.60 214.60,319.60" fill="#4a0f6c"/>
<polygon points="213.80,332.40 215.80,328.60 211.80,328.60" fill="#4a0f6c"/>
<polygon points="213.80,346.10 215.80,342.30 211.80,342.30" fill="#4a0f6c"/>
<polygon points="213.80,358.80 215.80,355.00 211.80,355.00" fill="#4a0f6c"/>
<circle cx="333.5" cy="362" r="2.0" fill="#a8062c"/>
<circle cx="338.9" cy="365.1" r="2.0" fill="#a8062c"/>
<circle cx="344.7" cy="363.9" r="2.0" fill="#a8062c"/>
<circle cx="387.7" cy="278.3" r="1.8" fill="#1a3f80"/>
<circle cx="387.7" cy="298.3" r="1.8" fill="#1a3f80"/>
<circle cx="387.7" cy="311.6" r="1.8" fill="#1a3f80"/>
<circle cx="382.2" cy="325.8" r="1.8" fill="#1a3f80"/>
<circle cx="387.7" cy="326" r="1.8" fill="#1a3f80"/>
<circle cx="393.5" cy="324.9" r="1.8" fill="#1a3f80"/>
<circle cx="390.5" cy="328.5" r="1.8" fill="#1a3f80"/>
<circle cx="385" cy="331.9" r="1.8" fill="#1a3f80"/>
<circle cx="436.4" cy="310.3" r="1.8" fill="#62b041"/>
<circle cx="436.4" cy="342.6" r="1.8" fill="#62b041"/>
<circle cx="428.2" cy="348.8" r="1.8" fill="#62b041"/>
<circle cx="433.9" cy="350.2" r="1.8" fill="#62b041"/>
<circle cx="439.6" cy="352.3" r="1.8" fill="#62b041"/>
<circle cx="444.9" cy="349.8" r="1.8" fill="#62b041"/>
<circle cx="428.2" cy="362.5" r="1.8" fill="#62b041"/>
<circle cx="439.6" cy="364.2" r="1.8" fill="#62b041"/>
<circle cx="444.9" cy="362.5" r="1.8" fill="#62b041"/>
<circle cx="433.9" cy="366.7" r="1.8" fill="#62b041"/>
<circle cx="485.2" cy="248.8" r="1.8" fill="#4a0f6c"/>
<circle cx="485.2" cy="277.8" r="1.8" fill="#4a0f6c"/>
<circle cx="482.6" cy="308.1" r="1.8" fill="#4a0f6c"/>
<circle cx="488.3" cy="306" r="1.8" fill="#4a0f6c"/>
<circle cx="485.1" cy="319.6" r="1.8" fill="#4a0f6c"/>
<circle cx="485.1" cy="327.2" r="1.8" fill="#4a0f6c"/>
<circle cx="75.4" cy="538.3" r="2.1" fill="#a8062c"/>
<circle cx="81.5" cy="540.2" r="2.1" fill="#a8062c"/>
<circle cx="78.3" cy="549.2" r="2.1" fill="#a8062c"/>
<rect x="124.70" y="515.70" width="3.8" height="3.8" fill="#1a3f80"/>
<rect x="130.60" y="517.60" width="3.8" height="3.8" fill="#1a3f80"/>
<rect x="118.80" y="523.00" width="3.8" height="3.8" fill="#1a3f80"/>
<rect x="121.80" y="525.10" width="3.8" height="3.8" fill="#1a3f80"/>
<rect x="127.70" y="523.70" width="3.8" height="3.8" fill="#1a3f80"/>
<rect x="133.70" y="524.20" width="3.8" height="3.8" fill="#1a3f80"/>
<rect x="136.30" y="523.50" width="3.8" height="3.8" fill="#1a3f80"/>
<rect x="127.70" y="530.30" width="3.8" height="3.8" fill="#1a3f80"/>
<rect x="124.70" y="544.60" width="3.8" height="3.8" fill="#1a3f80"/>
<rect x="130.60" y="542.20" width="3.8" height="3.8" fill="#1a3f80"/>
<polygon points="180.80,481.20 182.80,485.00 178.80,485.00" fill="#62b041"/>
<polygon points="174.80,494.40 176.80,498.20 172.80,498.20" fill="#62b041"/>
<polygon points="177.70,496.00 179.70,499.80 175.70,499.80" fill="#62b041"/>
<polygon points="184.00,492.30 186.00,496.10 182.00,496.10" fill="#62b041"/>
<polygon points="184.00,502.10 186.00,505.90 182.00,505.90" fill="#62b041"/>
<polygon points="180.70,513.50 182.70,517.30 178.70,517.30" fill="#62b041"/>
<polygon points="174.90,520.10 176.90,523.90 172.90,523.90" fill="#62b041"/>
<polygon points="186.70,517.80 188.70,521.60 184.70,521.60" fill="#62b041"/>
<polygon points="180.70,521.30 182.70,525.10 178.70,525.10" fill="#62b041"/>
<polygon points="180.70,529.10 182.70,532.90 178.70,532.90" fill="#62b041"/>
<polygon points="235.00,482.00 237.00,478.20 233.00,478.20" fill="#4a0f6c"/>
<polygon points="229.20,486.30 231.20,482.50 227.20,482.50" fill="#4a0f6c"/>
<polygon points="232.50,503.60 234.50,499.80 230.50,499.80" fill="#4a0f6c"/>
<polygon points="226.70,510.30 228.70,506.50 224.70,506.50" fill="#4a0f6c"/>
<polygon points="238.30,512.20 240.30,508.40 236.30,508.40" fill="#4a0f6c"/>
<polygon points="232.50,515.50 234.50,511.70 230.50,511.70" fill="#4a0f6c"/>
<circle cx="327" cy="592.3" r="2.4" fill="#a8062c"/>
<circle cx="336.2" cy="590" r="2.4" fill="#a8062c"/>
<circle cx="345.5" cy="591.8" r="2.4" fill="#a8062c"/>
<circle cx="354.5" cy="591.2" r="2.4" fill="#a8062c"/>
<rect x="387.20" y="487.40" width="4.8" height="4.8" fill="#1a3f80"/>
<rect x="387.20" y="521.40" width="4.8" height="4.8" fill="#1a3f80"/>
<rect x="387.20" y="533.40" width="4.8" height="4.8" fill="#1a3f80"/>
<rect x="387.20" y="558.30" width="4.8" height="4.8" fill="#1a3f80"/>
<polygon points="438.50,584.98 441.15,590.02 435.85,590.02" fill="#62b041"/>
<polygon points="428.20,593.88 430.85,598.92 425.55,598.92" fill="#62b041"/>
<polygon points="438.50,590.88 441.15,595.92 435.85,595.92" fill="#62b041"/>
<polygon points="449.10,590.88 451.75,595.92 446.45,595.92" fill="#62b041"/>
<polygon points="487.40,486.06 490.20,480.74 484.60,480.74" fill="#4a0f6c"/>
<polygon points="487.30,526.56 490.10,521.24 484.50,521.24" fill="#4a0f6c"/>
<polygon points="487.30,578.06 490.10,572.74 484.50,572.74" fill="#4a0f6c"/>
</svg></div>
</body></html>
